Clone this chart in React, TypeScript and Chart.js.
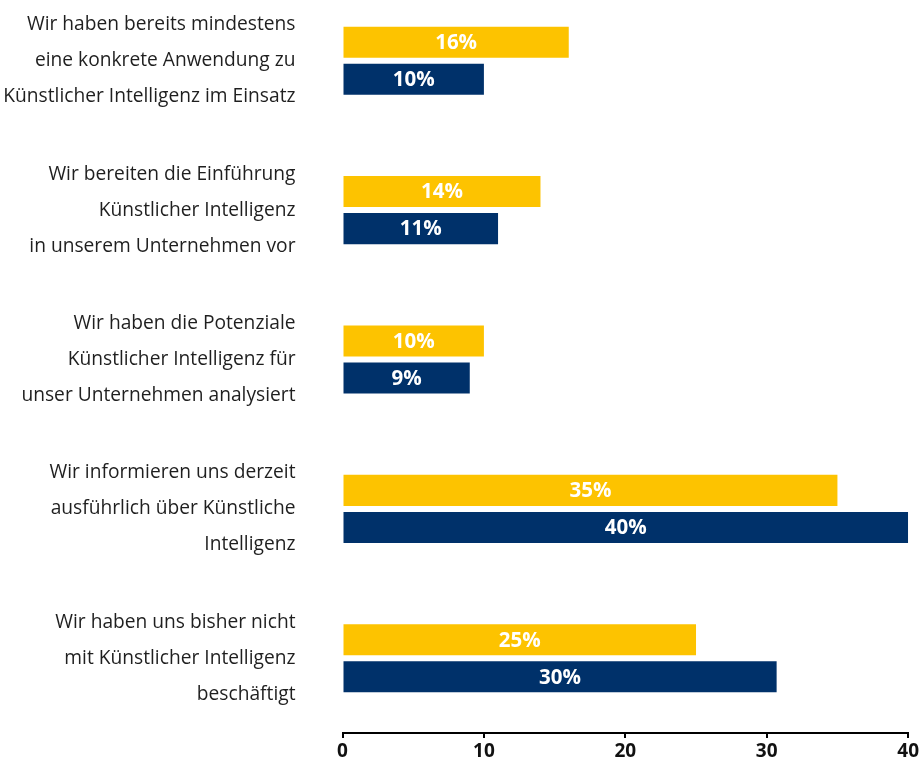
import React, { useEffect, useRef } from "react";
import { Chart, registerables } from "chart.js";

Chart.register(...registerables);

const categories: string[][] = [
  ["Wir haben bereits mindestens", "eine konkrete Anwendung zu", "Künstlicher Intelligenz im Einsatz"],
  ["Wir bereiten die Einführung", "Künstlicher Intelligenz", "in unserem Unternehmen vor"],
  ["Wir haben die Potenziale", "Künstlicher Intelligenz für", "unser Unternehmen analysiert"],
  ["Wir informieren uns derzeit", "ausführlich über Künstliche", "Intelligenz"],
  ["Wir haben uns bisher nicht", "mit Künstlicher Intelligenz", "beschäftigt"],
];

const yellowValues: number[] = [16, 14, 10, 35, 25];
const navyValues: number[] = [10, 11, 9, 40, 30.7];
const yellowLabels: string[] = ["16%", "14%", "10%", "35%", "25%"];
const navyLabels: string[] = ["10%", "11%", "9%", "40%", "30%"];
const xTicks: number[] = [0, 10, 20, 30, 40];

const YELLOW = "#FDC300";
const NAVY = "#00316A";
const FONT = "'Open Sans', 'Noto Sans', sans-serif";

const barLabelPlugin = {
  id: "barLabels",
  afterDatasetsDraw(chart: any) {
    const ctx = chart.ctx;
    const all = [yellowLabels, navyLabels];
    ctx.save();
    ctx.fillStyle = "#ffffff";
    ctx.font = `bold 20.5px ${FONT}`;
    ctx.textAlign = "center";
    ctx.textBaseline = "middle";
    chart.data.datasets.forEach((_: any, di: number) => {
      const meta = chart.getDatasetMeta(di);
      meta.data.forEach((el: any, i: number) => {
        const cx = (el.base + el.x) / 2;
        ctx.fillText(all[di][i], cx, el.y + 1);
      });
    });
    ctx.restore();
  },
};

export default function App() {
  const ref = useRef<HTMLCanvasElement | null>(null);
  useEffect(() => {
    if (!ref.current) return;
    const chart = new Chart(ref.current, {
      type: "bar",
      data: {
        labels: categories,
        datasets: [
          {
            label: "Gelb",
            data: yellowValues,
            backgroundColor: YELLOW,
            borderWidth: 0,
            barPercentage: 0.838,
            categoryPercentage: 0.496,
          },
          {
            label: "Blau",
            data: navyValues,
            backgroundColor: NAVY,
            borderWidth: 0,
            barPercentage: 0.838,
            categoryPercentage: 0.496,
          },
        ],
      },
      options: {
        indexAxis: "y",
        animation: false,
        responsive: true,
        maintainAspectRatio: false,
        layout: { padding: { top: 0, right: 12, bottom: 0, left: 0 } },
        plugins: {
          legend: { display: false },
          tooltip: { enabled: false },
        },
        scales: {
          x: {
            min: 0,
            max: 40,
            afterBuildTicks: (scale: any) => {
              scale.ticks = xTicks.map((v) => ({ value: v }));
            },
            afterFit: (scale: any) => {
              scale.height = 27;
            },
            grid: {
              display: true,
              drawOnChartArea: false,
              drawTicks: true,
              tickLength: 5,
              color: "#000000",
              lineWidth: 2,
            },
            border: { display: true, color: "#000000", width: 2 },
            ticks: {
              color: "#111111",
              padding: 2,
              font: { family: FONT, size: 19, weight: "bold", lineHeight: 1.2 },
            },
          },
          y: {
            afterFit: (scale: any) => {
              scale.width = 342.5;
              scale.paddingTop = 0;
              scale.paddingBottom = 0;
            },
            grid: { display: false, drawTicks: false },
            border: { display: false },
            ticks: {
              color: "#1f1f1f",
              padding: 47,
              font: { family: FONT, size: 19.2, lineHeight: 1.875 },
            },
          },
        },
      },
      plugins: [barLabelPlugin],
    });
    return () => chart.destroy();
  }, []);

  return (
    <div style={{ position: "fixed", left: 0, top: -14, width: 921, height: 774 }}>
      <canvas ref={ref} />
    </div>
  );
}
